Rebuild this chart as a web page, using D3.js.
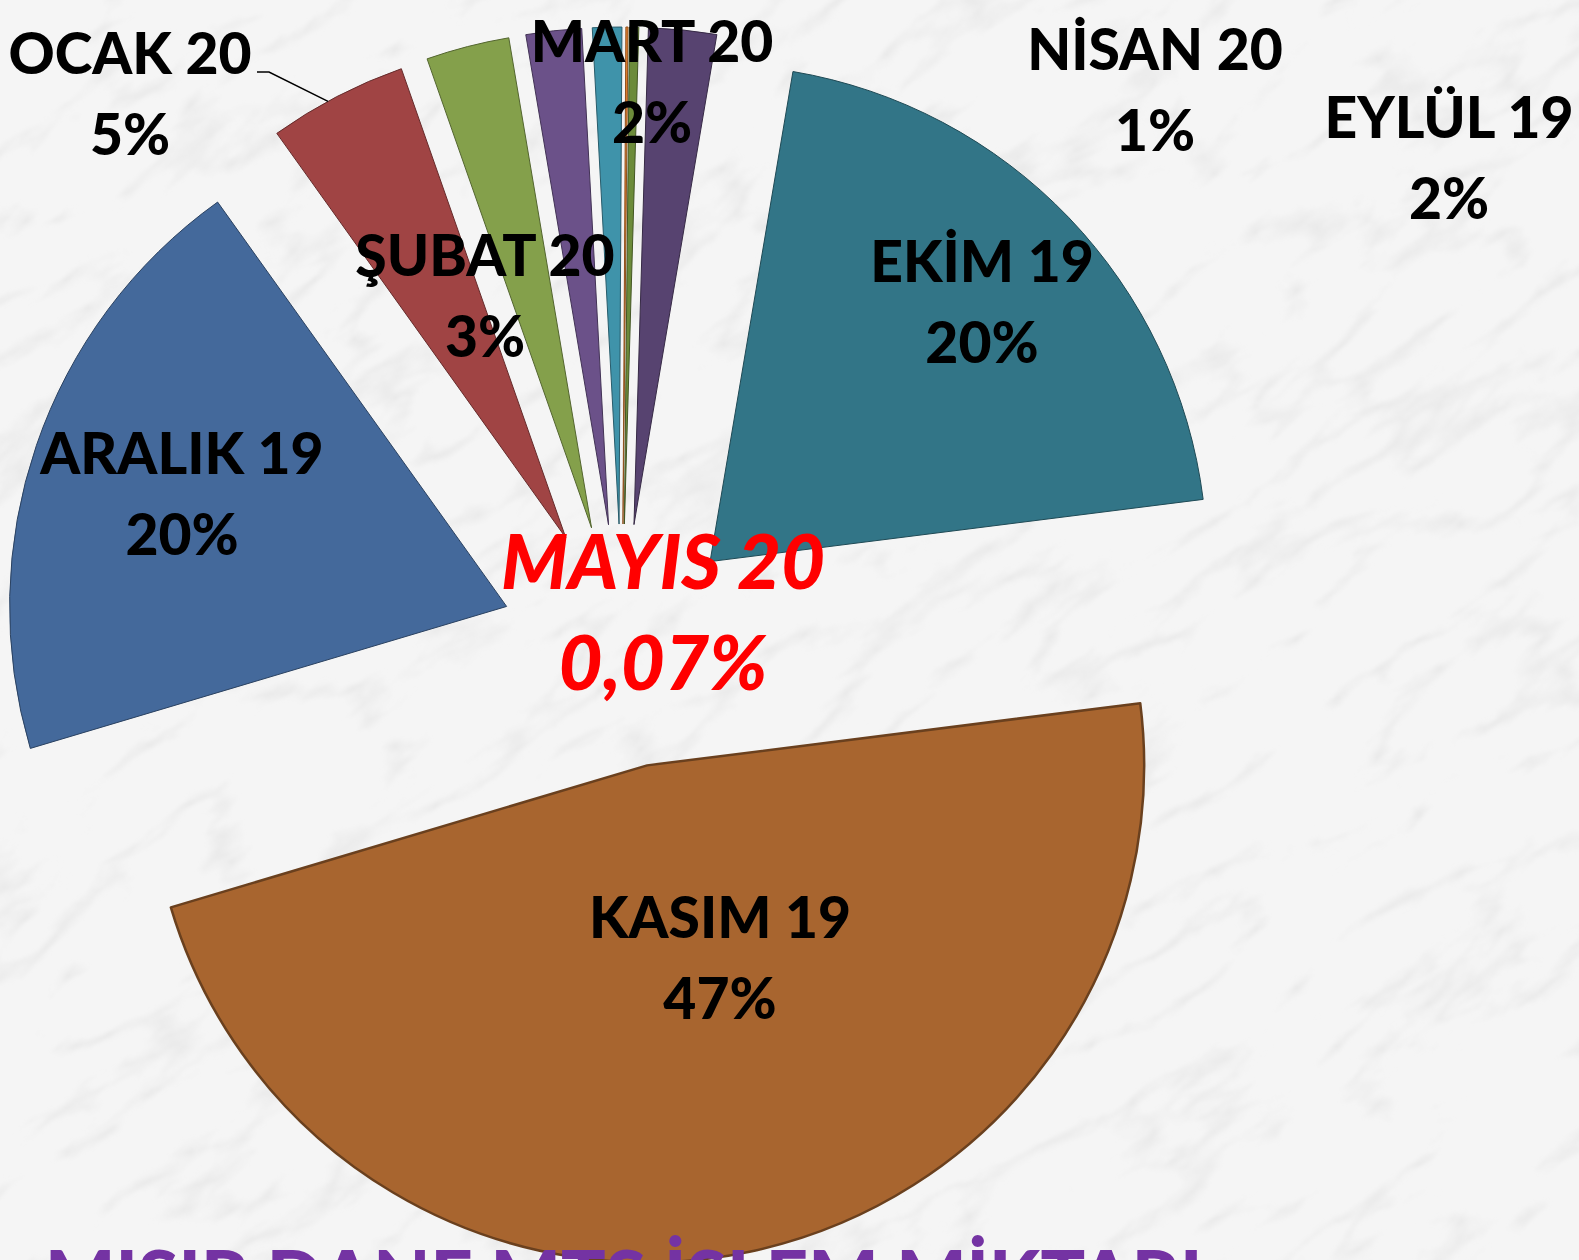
<!DOCTYPE html>
<html>
<head>
<meta charset="utf-8">
<script src="https://cdn.jsdelivr.net/npm/d3@7"></script>
<style>
  html, body { margin: 0; padding: 0; background: #f3f3f3; }
  svg { display: block; }
  .lbl { font-family: Lato, "Open Sans", sans-serif; font-weight: 900; fill: #000; }
</style>
</head>
<body>
<svg id="chart"></svg>
<script>
const width = 1579, height = 1260;

// slices in clockwise order (Excel order, first slice = ARALIK 19)
const months  = ['ARALIK 19', 'OCAK 20', 'ŞUBAT 20', 'MART 20', 'NİSAN 20', 'MAYIS 20', 'AĞUSTOS 19', 'EYLÜL 19', 'EKİM 19', 'KASIM 19'];
const shares  = [19.7, 4.5, 2.7, 1.8, 0.95, 0.07, 0.3, 2.2, 20.3, 47.3];
const colors  = ['#44699b', '#a04444', '#84a04b', '#6b5189', '#3f93aa', '#e4802f', '#6c8b3a', '#574370', '#327587', '#a8652f'];
const showLbl = [true, true, true, true, true, true, false, true, true, true];

// label anchors, relative to pie centre (first line centre / baseline)
const labelAt = {
  'ARALIK 19': [-440, -172],
  'OCAK 20':   [-492, -572],
  'ŞUBAT 20':  [-137, -370],
  'MART 20':   [30, -584],
  'NİSAN 20':  [533, -576],
  'MAYIS 20':  [41, -57],
  'EYLÜL 19':  [827, -508],
  'EKİM 19':   [360, -364],
  'KASIM 19':  [98, 292]
};

const fig = { cx: 622, cy: 646, r: 497, explode: 122, startDeg: 253.4 };

const svg = d3.select('#chart').attr('width', width).attr('height', height);

// marble background
const defs = svg.append('defs');
const marble = defs.append('filter').attr('id', 'marble')
  .attr('x', 0).attr('y', 0).attr('width', '100%').attr('height', '100%');
marble.append('feTurbulence')
  .attr('type', 'turbulence')
  .attr('baseFrequency', '0.005 0.014')
  .attr('numOctaves', 5)
  .attr('seed', 7);
marble.append('feColorMatrix')
  .attr('type', 'matrix')
  .attr('values', '0 0 0 0 0.6  0 0 0 0 0.6  0 0 0 0 0.6  -1.3 0 0 0 0.3');
marble.append('feGaussianBlur').attr('stdDeviation', 1.6);

svg.append('rect').attr('width', width).attr('height', height).attr('fill', '#f5f5f5');
svg.append('g')
  .attr('transform', `rotate(-35 ${width / 2} ${height / 2})`)
  .append('rect')
    .attr('x', -600).attr('y', -600)
    .attr('width', width + 1200).attr('height', height + 1200)
    .attr('filter', 'url(#marble)');

const data = months.map((m, i) => ({ name: m, value: shares[i], color: colors[i], show: showLbl[i] }));
const total = d3.sum(shares);

const pie = d3.pie()
  .sort(null)
  .value(d => d.value)
  .startAngle(fig.startDeg * Math.PI / 180)
  .endAngle(fig.startDeg * Math.PI / 180 + 2 * Math.PI);

const arc = d3.arc().innerRadius(0).outerRadius(fig.r);

const arcs = pie(data);

// exploded slices
svg.append('g')
  .attr('transform', `translate(${fig.cx},${fig.cy})`)
  .selectAll('.slice')
  .data(arcs)
  .join('path')
    .attr('class', 'slice')
    .attr('transform', d => {
      const a = (d.startAngle + d.endAngle) / 2;
      return `translate(${fig.explode * Math.sin(a)},${-fig.explode * Math.cos(a)})`;
    })
    .attr('d', arc)
    .attr('fill', d => d.data.color)
    .attr('stroke', d => d3.color(d.data.color).darker(1.3))
    .attr('stroke-width', d => d.data.name === 'KASIM 19' ? 2.5 : 1)
    .attr('stroke-linejoin', 'round');

function pctText(v) {
  const p = v / total * 100;
  if (p < 0.5) return p.toFixed(2).replace('.', ',') + '%';
  return Math.round(p) + '%';
}

// labels
const lbl = svg.append('g')
  .attr('transform', `translate(${fig.cx},${fig.cy})`)
  .selectAll('.lbl')
  .data(data.filter(d => d.show))
  .join('text')
    .attr('class', 'lbl')
    .attr('text-anchor', 'middle')
    .attr('x', d => labelAt[d.name][0])
    .attr('y', d => labelAt[d.name][1])
    .attr('font-size', d => d.name === 'MAYIS 20' ? 76 : 57)
    .style('font-style', d => d.name === 'MAYIS 20' ? 'italic' : 'normal')
    .style('fill', d => d.name === 'MAYIS 20' ? '#ff0000' : '#000');

lbl.append('tspan').text(d => d.name);
lbl.append('tspan')
  .attr('x', d => labelAt[d.name][0])
  .attr('dy', d => d.name === 'MAYIS 20' ? 101 : 81)
  .text(d => pctText(d.value));

// leader line for OCAK 20
const ocak = arcs.find(d => d.data.name === 'OCAK 20');
const oa = (ocak.startAngle + ocak.endAngle) / 2;
const tip = [
  fig.cx + fig.explode * Math.sin(oa) + fig.r * Math.sin(oa - 0.02),
  fig.cy - fig.explode * Math.cos(oa) - fig.r * Math.cos(oa - 0.02)
];
svg.append('path')
  .attr('d', d3.line()([[257, 72], [269, 72], tip]))
  .attr('fill', 'none')
  .attr('stroke', '#000')
  .attr('stroke-width', 1.5);

// title (cut off at the bottom edge)
svg.append('text')
  .attr('class', 'lbl')
  .attr('x', 45)
  .attr('y', 1304)
  .attr('font-size', 74)
  .style('fill', '#7433a3')
  .text('MISIR DANE MTS İŞLEM MİKTARI');
</script>
</body>
</html>
